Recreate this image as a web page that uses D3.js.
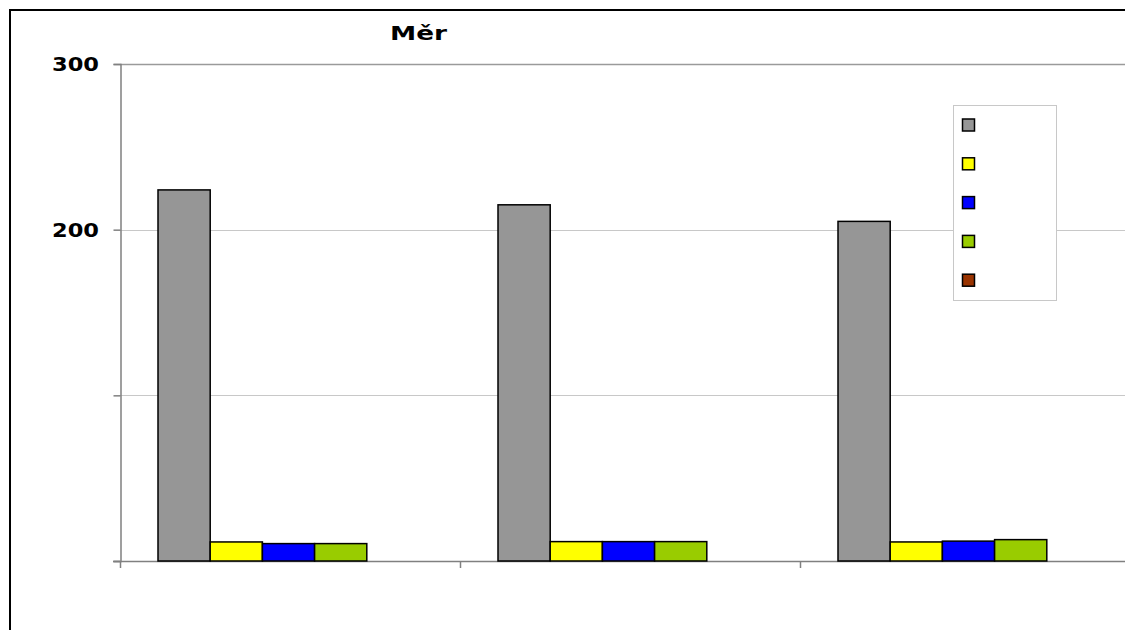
<!DOCTYPE html>
<html>
<head>
<meta charset="utf-8">
<script src="https://cdn.jsdelivr.net/npm/d3@7"></script>
<style>
  html, body { margin: 0; padding: 0; background: #fff; }
  svg { display: block; }
</style>
</head>
<body>
<svg id="chart" width="1125" height="630"></svg>
<script>
// ---- data ----
const categories = ["1", "2", "3"];
const seriesNames = ["Řada 1", "Řada 2", "Řada 3", "Řada 4", "Řada 5"];
const seriesColors = ["#969696", "#FFFF00", "#0000FF", "#99CC00", "#993300"];
const grayValues   = [224, 215, 205];
const yellowValues = [11.5, 11.7, 11.5];
const blueValues   = [10.5, 11.7, 12];
const greenValues  = [10.5, 11.7, 12.9];
const brownValues  = [0, 0, 0];
const gridTicks = [100, 200, 300];
const axisTicks = [0, 100, 200, 300];
const tickLabels = [{ v: 200, t: "200" }, { v: 300, t: "300" }];
const titleText = "Měr";

const seriesValues = [grayValues, yellowValues, blueValues, greenValues, brownValues];

const svg = d3.select("#chart");
const W = 1125, H = 630;

// outer frame (chart area border)
svg.append("rect")
  .attr("x", 10).attr("y", 10)
  .attr("width", W + 20).attr("height", H + 20)
  .attr("fill", "#fff").attr("stroke", "#000").attr("stroke-width", 2);

const plotLeft = 120, plotTop = 64, plotBottom = 561, plotRight = 1140;

const y = d3.scaleLinear().domain([0, 300]).range([plotBottom, plotTop]);
const x0 = d3.scaleBand().domain(categories).range([plotLeft, plotRight]).padding(0);
const x1 = d3.scaleBand().domain(d3.range(seriesNames.length)).range([38, 38 + 261]).padding(0);

// gridlines
svg.append("g").selectAll("line").data(gridTicks).join("line")
  .attr("x1", plotLeft).attr("x2", plotRight)
  .attr("y1", d => Math.round(y(d)) + 0.5).attr("y2", d => Math.round(y(d)) + 0.5)
  .attr("stroke", d => d === 300 ? "#9a9a9a" : "#c8c8c8")
  .attr("stroke-width", d => d === 300 ? 1.5 : 1);

// y axis
const yAxis = d3.axisLeft(y).tickValues(axisTicks).tickSize(7).tickFormat("");
const gy = svg.append("g").attr("transform", `translate(${plotLeft + 0.5},0)`).call(yAxis);
gy.select(".domain").attr("stroke", "#808080").attr("stroke-width", 1.5);
gy.selectAll(".tick line").attr("stroke", "#808080").attr("stroke-width", 1.5);

// y tick labels (only those visible)
svg.append("g").selectAll("text").data(tickLabels).join("text")
  .attr("x", 99).attr("y", d => y(d.v) + 7)
  .attr("text-anchor", "end")
  .attr("font-family", "DejaVu Sans, sans-serif")
  .attr("font-weight", "bold").attr("font-size", 20)
  .attr("textLength", 47).attr("lengthAdjust", "spacingAndGlyphs")
  .attr("fill", "#000")
  .text(d => d.t);

// x axis
const xAxis = d3.axisBottom(x0).tickSize(0).tickFormat("");
const gx = svg.append("g").attr("transform", `translate(0,${plotBottom + 0.5})`).call(xAxis);
gx.select(".domain").remove();
svg.append("line")
  .attr("x1", plotLeft - 7).attr("x2", plotRight)
  .attr("y1", plotBottom + 0.5).attr("y2", plotBottom + 0.5)
  .attr("stroke", "#808080").attr("stroke-width", 1.5);
// category boundary ticks
const boundaries = categories.map(c => x0(c));
svg.append("g").selectAll("line").data(boundaries).join("line")
  .attr("x1", d => d + 0.5).attr("x2", d => d + 0.5)
  .attr("y1", plotBottom).attr("y2", plotBottom + 7)
  .attr("stroke", "#808080").attr("stroke-width", 1.5);

// bars
const groups = svg.append("g").selectAll("g").data(categories).join("g")
  .attr("transform", c => `translate(${x0(c)},0)`);
groups.selectAll("rect")
  .data((c, ci) => seriesValues.map((vals, si) => ({ si, v: vals[ci] })).filter(d => d.v > 0))
  .join("rect")
  .attr("x", d => x1(d.si))
  .attr("width", x1.bandwidth())
  .attr("y", d => y(d.v))
  .attr("height", d => y(0) - y(d.v))
  .attr("fill", d => seriesColors[d.si])
  .attr("stroke", "#000").attr("stroke-width", 1.5);

// legend
const legend = svg.append("g");
legend.append("rect")
  .attr("x", 953.5).attr("y", 105.5).attr("width", 103).attr("height", 195)
  .attr("fill", "#fff").attr("stroke", "#c8c8c8").attr("stroke-width", 1);
legend.selectAll("rect.sw").data(seriesNames).join("rect")
  .attr("class", "sw")
  .attr("x", 962.5).attr("y", (d, i) => 119 + i * 38.8)
  .attr("width", 12).attr("height", 12)
  .attr("fill", (d, i) => seriesColors[i])
  .attr("stroke", "#000").attr("stroke-width", 1.5);

// title (cut off in the reference)
svg.append("text")
  .attr("x", 390).attr("y", 40)
  .attr("font-family", "DejaVu Sans, sans-serif")
  .attr("font-weight", "bold").attr("font-size", 20)
  .attr("textLength", 57).attr("lengthAdjust", "spacingAndGlyphs")
  .attr("fill", "#000")
  .text(titleText);
</script>
</body>
</html>
